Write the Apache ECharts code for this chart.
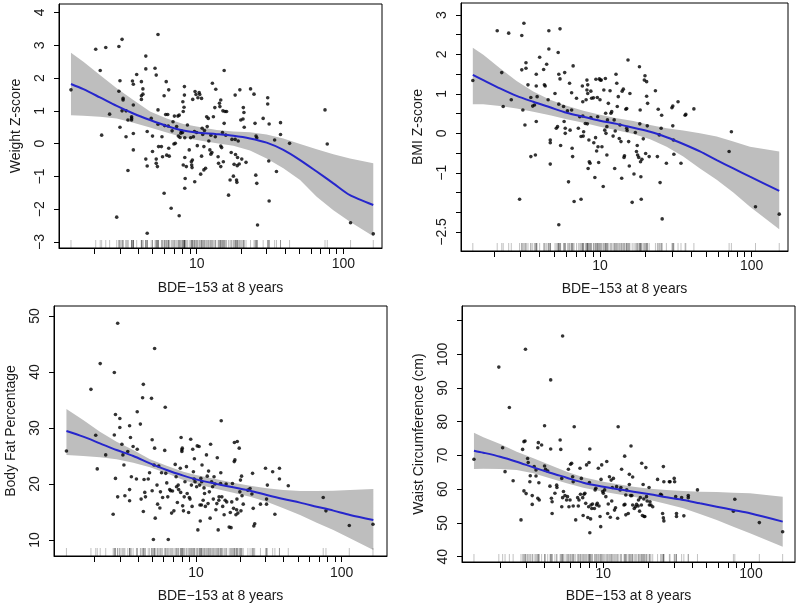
<!DOCTYPE html>
<html><head><meta charset="utf-8">
<script src="https://cdn.jsdelivr.net/npm/echarts@6/dist/echarts.min.js"></script>
<style>html,body{margin:0;padding:0;background:#fff}#c{width:800px;height:613px}</style>
</head><body><div id="c"></div>
<script>
// ---------- shared axis data ----------
const xTicks = [2,3,4,5,6,7,8,9,10,20,30,40,50,60,70,80,90,100];
const xTickLabels = [10,100];
const xTitle = 'BDE\u2212153 at 8 years';

// ---------- Panel 1: Weight Z-score ----------
const weightPoints = [[1.39,1.64],[2.05,2.88],[2.2,2.23],[2.25,0.26],[2.4,2.93],[2.55,0.9],[2.95,2.96],[2.95,1.6],[3.0,1.92],[3.0,0.5],[3.1,3.18],[3.15,1.38],[3.15,1.33],[3.1,1.0],[2.85,-2.24],[3.3,0.21],[3.3,1.0],[3.4,0.72],[3.4,-0.82],[3.6,0.72],[3.65,1.91],[3.7,1.81],[3.7,1.18],[3.7,0.31],[3.7,-0.19],[3.9,2.11],[3.6,0.82],[3.6,0.77],[4.2,1.89],[4.2,1.35],[4.2,1.46],[4.3,1.67],[4.3,1.51],[4.5,2.28],[4.5,2.67],[4.5,-0.47],[4.6,-0.68],[4.6,-2.73],[4.6,0.37],[4.9,0.77],[5.0,0.23],[5.0,-0.24],[5.2,2.3],[5.3,2.09],[5.3,-0.47],[5.3,-0.6],[5.4,-0.7],[5.45,3.33],[5.45,1.03],[5.45,0.59],[5.5,-0.09],[5.75,-0.09],[5.8,0.21],[5.85,-0.4],[6.0,1.46],[6.0,-1.51],[6.05,0.55],[6.15,0.89],[6.2,1.89],[6.25,-0.35],[6.35,0.89],[6.45,1.64],[6.4,0.54],[6.45,-0.14],[6.5,-0.38],[6.7,-1.97],[6.8,0.39],[6.9,0.67],[7.0,-0.01],[7.05,0.84],[7.15,0.01],[7.3,0.52],[7.45,0.84],[7.5,0.23],[7.6,-2.2],[7.6,0.87],[7.7,0.19],[7.8,0.32],[7.85,0.39],[8.0,0.34],[8.05,1.28],[8.1,-0.65],[8.1,0.98],[8.2,1.11],[8.25,1.74],[8.25,1.48],[8.3,0.18],[8.3,-0.42],[8.3,-1.36],[8.35,-1.06],[8.5,-0.7],[8.65,0.57],[8.9,-0.19],[9.1,0.18],[9.2,-0.55],[9.25,-0.65],[9.3,-0.73],[9.35,-0.5],[9.4,1.35],[9.5,0.21],[9.65,0.37],[9.7,-1.16],[9.75,1.59],[9.9,1.5],[10,0.34],[10.1,-0.06],[10.2,1.4],[10.4,1.56],[10.5,1.5],[10.65,-0.93],[10.8,-0.38],[10.8,1.38],[10.9,0.47],[11.0,0.28],[11.2,-0.09],[11.2,-0.8],[11.3,0.4],[11.5,-0.75],[11.7,0.82],[11.8,0.52],[12,0.77],[12.1,0.08],[12.3,-0.19],[12.5,0.26],[12.5,-0.32],[12.7,-0.27],[12.8,1.84],[13.0,0.82],[13.3,1.1],[13.4,0.21],[13.5,1.66],[14,-0.4],[14.1,-0.6],[14.3,1.23],[14.4,1.13],[14.6,1.33],[14.6,-0.7],[14.6,-0.07],[14.8,-0.12],[15,0.34],[15.1,1.0],[15.2,-0.55],[15.4,0.62],[15.4,2.23],[15.6,0.98],[15.8,0.26],[16,0.98],[16.5,-1.57],[16.9,-1.11],[17.2,-0.27],[17.4,0.13],[17.8,-0.99],[18,-0.63],[18.3,0.13],[18.3,1.48],[18.4,-0.33],[18.7,-1.11],[18.8,-1.18],[18.9,-0.67],[19,-0.42],[19.2,0.08],[19.5,-0.62],[19.7,1.64],[20,0.72],[20.3,-0.47],[20.7,0.75],[20.8,1.1],[21,0.95],[21.1,0.5],[21.7,-0.57],[23.3,1.67],[24.6,1.51],[25,0.62],[25.3,-0.96],[25.4,0.23],[25.7,0.18],[25.7,-1.21],[26.0,-2.48],[28.4,0.77],[30.5,1.4],[30.5,1.21],[31,-0.53],[31.2,0.6],[31.2,-1.75],[34,0.11],[35,-0.85],[37.3,0.64],[37.3,0.28],[43,0.01],[75,1.03],[77.7,-0.01],[112,-2.41],[160,-2.75]];
const weightFitX  = [1.39,1.69,2.19,2.85,3.70,4.81,6.25,8.11,10,13.7,17.8,23.1,30.0,39.0,50.7,65.8,85.5,111,160];
const weightFit   = [1.82,1.66,1.41,1.15,0.92,0.72,0.54,0.40,0.34,0.29,0.24,0.16,0.03,-0.19,-0.50,-0.85,-1.21,-1.57,-1.87];
const weightUpper = [2.77,2.50,2.09,1.69,1.33,0.98,0.77,0.60,0.52,0.42,0.37,0.35,0.28,0.16,-0.01,-0.17,-0.32,-0.45,-0.60];
const weightLower = [0.87,0.85,0.82,0.77,0.64,0.49,0.34,0.19,0.11,0.01,-0.06,-0.21,-0.45,-0.75,-1.11,-1.62,-2.03,-2.38,-2.82];
const weightTicks = [-3,-2,-1,0,1,2,3,4];
const weightTickLabels = [-3,-2,-1,0,1,2,3,4];

// ---------- Panel 2: BMI Z-score ----------
const bmiPoints = [[1.45,1.34],[2.1,2.6],[2.25,1.54],[2.3,0.68],[2.5,2.54],[2.6,0.85],[2.95,-1.67],[3.05,1.61],[3.05,2.48],[3.1,0.59],[3.15,2.79],[3.2,0.21],[3.25,1.79],[3.25,1.65],[3.35,1.23],[3.5,0.91],[3.5,-0.59],[3.6,0.69],[3.7,0.72],[3.75,-0.55],[3.8,0.3],[3.8,1.2],[3.8,1.5],[3.85,0.93],[4.0,1.93],[4.25,1.62],[4.3,1.23],[4.35,1.2],[4.45,1.75],[4.55,0.85],[4.6,2.6],[4.6,2.14],[4.7,-0.24],[4.7,-0.17],[4.7,-0.78],[5.05,1.01],[5.15,0.13],[5.25,0.17],[5.3,2.05],[5.35,1.5],[5.35,0.74],[5.35,-2.32],[5.45,2.65],[5.45,1.38],[5.5,-0.31],[5.75,0.68],[5.8,0.3],[5.85,1.54],[5.9,0.13],[5.9,0],[6.1,0.57],[6.2,-1.23],[6.3,1.27],[6.35,0.08],[6.5,1.03],[6.5,0.59],[6.55,-0.38],[6.6,-0.59],[6.65,1.71],[6.75,-1.73],[7.0,0.89],[7.2,0.13],[7.35,0.42],[7.5,-1.67],[7.5,-0.08],[7.65,1.2],[7.7,0.8],[7.7,0.44],[7.75,-0.07],[7.8,0.04],[8.0,0.25],[8.1,0.85],[8.2,1.1],[8.2,1.35],[8.25,0.24],[8.3,1.01],[8.3,1.23],[8.35,-0.89],[8.45,-0.17],[8.5,-0.72],[8.6,-0.76],[8.7,0.4],[8.7,1.07],[8.8,0.89],[9.05,0.9],[9.1,-0.24],[9.25,-1.12],[9.35,-0.11],[9.4,1.37],[9.5,-0.45],[9.6,0.91],[9.65,0.42],[9.7,-0.34],[9.8,-0.74],[9.9,1.38],[10,0.85],[10.05,1.35],[10.2,1.35],[10.3,-0.34],[10.5,-1.35],[10.6,1.1],[10.75,0.08],[10.85,1.39],[10.9,0.51],[10.95,0],[11.1,0.17],[11.1,-0.55],[11.2,0.34],[11.35,0.76],[11.65,1.08],[11.8,0.51],[11.95,0.55],[12.2,-0.07],[12.4,0.34],[12.5,-0.89],[12.6,0.06],[12.75,1.5],[12.9,1.27],[13.0,0.68],[13.2,0.93],[13.4,-0.13],[13.55,0.21],[13.75,-0.21],[13.9,-1.14],[14.0,1.07],[14.25,1.12],[14.4,-0.61],[14.5,-0.57],[14.8,0.61],[15,0.13],[15,0.63],[15.1,0.07],[15.3,1.86],[15.45,-0.21],[15.6,-0.83],[15.75,1.01],[16.3,-1.75],[16.75,-1.03],[17.1,0.02],[17.4,-0.46],[17.6,-0.31],[17.7,-0.55],[18,-0.61],[18.2,1.69],[18.3,0.24],[18.4,0.59],[18.5,-0.72],[18.6,-1.1],[18.7,-1.67],[18.9,-0.66],[19.3,-0.14],[19.6,1.35],[19.8,1.46],[20,-0.51],[20.3,1.31],[20.3,0.94],[20.5,0.19],[20.6,0.76],[21.1,-0.59],[23.2,1.08],[23.9,-0.59],[24.2,0.61],[24.6,-0.04],[24.9,-1.25],[25.3,0.13],[25.5,0.46],[25.7,-2.17],[27.4,-0.76],[29.8,0.65],[30.2,0.69],[30.2,0.19],[30.5,-0.17],[30.7,-0.53],[32.7,0.8],[34.2,-0.76],[36.4,0.46],[36.8,0.48],[41.6,0.62],[71,-0.46],[73.5,0.04],[106,-1.86],[152,-2.05]];
const bmiFitX  = [1.45,1.70,2.19,2.82,3.63,4.68,6.03,7.77,10,12.9,16.6,21.4,27.5,35.4,45.6,58.8,75.7,97.5,152];
const bmiFit   = [1.48,1.35,1.14,0.95,0.80,0.66,0.52,0.42,0.32,0.24,0.14,0.04,-0.10,-0.27,-0.46,-0.68,-0.89,-1.10,-1.46];
const bmiUpper = [2.17,1.99,1.65,1.33,1.06,0.85,0.70,0.57,0.47,0.38,0.31,0.21,0.13,0.07,0.0,-0.08,-0.21,-0.34,-0.46];
const bmiLower = [0.74,0.74,0.69,0.63,0.55,0.46,0.36,0.27,0.17,0.08,-0.02,-0.15,-0.34,-0.59,-0.89,-1.18,-1.50,-1.86,-2.43];
const bmiTicks = [-2.5,-2,-1.5,-1,-0.5,0,0.5,1,1.5,2,2.5,3];
const bmiTickLabels = [-2.5,-1,0,1,2,3];

// ---------- Panel 3: Body Fat Percentage ----------
const fatPoints = [[1.29,25.9],[1.9,36.9],[2.05,28.7],[2.1,22.7],[2.2,41.5],[2.4,25.2],[2.7,14.6],[2.75,39.9],[2.75,28.75],[2.8,32.4],[2.8,21.0],[2.9,48.7],[2.9,17.7],[3.0,31.7],[3.0,30.1],[3.1,27.1],[3.15,25.2],[3.2,23.4],[3.25,17.9],[3.4,25.8],[3.5,30.4],[3.5,19.0],[3.5,17.0],[3.55,28.3],[3.6,21.3],[3.7,26.7],[3.9,20.9],[3.95,26.2],[3.95,32.9],[4.15,30.7],[4.2,17.3],[4.3,35.4],[4.35,37.8],[4.35,15.1],[4.4,20.8],[4.45,18.5],[4.5,17.7],[4.7,20.9],[4.8,22.0],[4.95,35.3],[5.0,27.9],[5.0,18.8],[5.1,10.1],[5.15,23.4],[5.2,44.2],[5.2,26.4],[5.25,13.9],[5.4,19.8],[5.45,16.4],[5.55,23.2],[5.65,15.7],[5.7,18.6],[5.8,22.0],[5.9,17.6],[6.1,26.0],[6.15,33.7],[6.2,21.9],[6.3,20.2],[6.4,17.7],[6.45,10.1],[6.6,19.0],[6.7,18.8],[6.8,14.8],[6.9,18.75],[7.05,15.2],[7.2,23.5],[7.3,21.3],[7.35,19.5],[7.45,16.7],[7.55,19.8],[7.6,19.0],[7.8,22.8],[7.85,18.5],[7.9,28.3],[8.0,26.1],[8.0,25.8],[8.05,26.4],[8.1,16.1],[8.2,15.2],[8.3,17.7],[8.4,20.4],[8.6,23.1],[8.7,18.3],[8.9,14.9],[9.0,17.6],[9.1,17.3],[9.2,28.0],[9.3,19.8],[9.4,16.0],[9.5,26.2],[9.6,22.2],[9.7,20.9],[9.75,24.5],[9.85,20.4],[10.1,19.5],[10.2,26.8],[10.3,11.8],[10.5,26.7],[10.6,19.8],[10.65,16.25],[10.7,13.4],[10.8,21.0],[10.9,16.25],[10.95,20.4],[11.0,23.4],[11.2,17.1],[11.35,19.3],[11.45,18.3],[11.6,16.0],[11.8,25.2],[11.95,21.4],[12.1,16.5],[12.2,22.3],[12.35,18.6],[12.5,13.9],[12.6,27.1],[12.8,20.4],[13.0,19.5],[13.15,17.3],[13.3,21.3],[13.5,20.0],[13.7,15.4],[13.9,16.5],[14.0,24.7],[14.2,11.8],[14.35,17.1],[14.4,17.7],[14.75,20.1],[14.8,22.0],[14.9,31.3],[15.05,17.7],[15.25,16.0],[15.6,14.5],[15.85,17.1],[16.1,20.0],[16.25,16.8],[16.9,12.3],[17.2,14.9],[17.4,12.2],[17.6,16.8],[17.8,20.1],[18.1,15.65],[18.3,24.0],[18.35,27.4],[18.5,24.3],[18.8,14.5],[19.0,15.4],[19.1,17.3],[19.2,27.6],[19.4,14.8],[19.8,26.4],[20.0,18.6],[20.2,20.7],[20.35,15.2],[20.55,21.4],[20.7,17.9],[21.1,16.4],[22.7,18.9],[23.5,19.2],[24.2,18.2],[24.45,21.9],[24.7,15.65],[24.95,12.5],[25.3,12.9],[27.7,16.4],[30,22.8],[30.5,17.3],[30.5,16.4],[30.9,19.8],[33.6,22.2],[34.8,14.6],[37.4,22.8],[37.4,20.9],[43,19.7],[74.7,17.6],[78,15.2],[112.8,12.6],[164,12.8]];
const fatFitX  = [1.29,1.68,2.19,2.85,3.71,4.83,6.29,8.19,10,13.9,18.0,23.5,30.6,39.8,51.8,67.4,87.7,114,165];
const fatFit   = [29.46,28.45,27.26,26.07,25.0,23.69,22.5,21.49,20.83,20.0,19.4,18.81,18.04,17.32,16.67,15.95,15.24,14.46,13.57];
const fatUpper = [33.39,31.43,29.35,27.56,26.07,24.4,23.27,22.2,21.61,20.83,20.24,19.7,19.23,18.93,18.75,18.75,18.81,18.93,19.11];
const fatLower = [25.18,25.0,24.76,24.4,23.81,22.98,21.9,20.71,20.0,19.11,18.45,17.74,16.85,15.65,14.46,13.1,11.79,10.3,8.21];
const fatTicks = [10,20,30,40,50];
const fatTickLabels = [10,20,30,40,50];

// ---------- Panel 4: Waist Circumference ----------
const waistPoints = [[1.33,68.9],[1.96,96.2],[2.08,72.3],[2.16,65.2],[2.31,84.2],[2.45,62.5],[2.77,50.9],[2.84,71.8],[2.9,74.1],[2.95,74.3],[2.97,101.5],[2.9,59.5],[3.0,58.7],[3.07,69.1],[3.1,67.9],[3.18,62.2],[3.2,64.0],[3.3,55.5],[3.3,58.1],[3.4,66.7],[3.5,63.9],[3.5,65.7],[3.6,57.3],[3.6,72.3],[3.63,73.8],[3.66,61.9],[3.68,56.8],[3.82,73.1],[4.0,78.8],[4.0,66.9],[4.06,65.9],[4.2,65.4],[4.35,60.9],[4.4,71.9],[4.4,92.4],[4.45,57.3],[4.5,56.3],[4.5,52.8],[4.7,58.8],[4.83,61.2],[4.85,60.5],[5.1,74.6],[5.15,71.8],[5.23,63.2],[5.23,54.8],[5.3,105.4],[5.3,57.5],[5.37,59.3],[5.5,58.1],[5.64,56.8],[5.72,57.8],[5.8,65.9],[5.85,54.8],[5.95,56.8],[6.0,67.4],[6.1,67.7],[6.2,63.7],[6.25,62.2],[6.25,55.0],[6.35,78.5],[6.5,50.9],[6.7,57.5],[6.77,55.0],[6.84,56.8],[6.95,66.2],[7.0,58.5],[7.1,63.2],[7.25,57.5],[7.3,52.2],[7.4,58.5],[7.5,58.8],[7.6,55.8],[7.7,67.2],[7.85,51.6],[7.95,54.8],[8.0,67.9],[8.05,62.0],[8.1,71.9],[8.1,47.1],[8.2,51.2],[8.25,55.3],[8.35,54.3],[8.45,55.6],[8.7,54.3],[8.8,59.8],[8.9,60.3],[9.0,55.3],[9.1,55.8],[9.25,66.2],[9.35,55.0],[9.5,51.9],[9.6,48.9],[9.65,62.9],[9.75,67.2],[9.9,59.3],[10.0,58.8],[10.2,59.8],[10.4,57.8],[10.55,68.2],[10.7,52.8],[10.8,55.6],[11.0,63.7],[11.15,51.7],[11.3,62.7],[11.4,56.5],[11.5,60.5],[11.7,63.2],[11.9,53.8],[12.1,54.5],[12.3,60.75],[12.5,51.4],[12.6,78.5],[13.0,59.8],[13.15,60.5],[13.3,65.9],[13.8,55.3],[13.95,69.8],[15.4,72.8],[14.0,55.5],[14.2,58.3],[14.4,59.8],[14.2,52.4],[14.75,52.8],[15.0,64.4],[15.0,61.4],[15.3,58.1],[15.6,58.1],[15.8,63.6],[15.8,55.3],[16.2,54.3],[16.5,54.8],[16.8,55.5],[17.2,55.0],[17.3,56.8],[17.6,53.5],[17.8,57.5],[18.1,55.3],[18.2,67.7],[18.4,52.2],[18.6,61.4],[18.8,57.1],[18.9,51.9],[19.1,51.9],[19.4,66.4],[19.6,57.8],[19.8,56.5],[20.4,60.5],[20.5,55.3],[20.7,56.3],[21.0,55.3],[21.6,54.8],[23.3,62.9],[24.4,58.5],[24.8,58.3],[25.2,52.8],[25.5,51.5],[25.7,50.6],[25.5,66.7],[25.7,62.2],[28.0,62.2],[28.3,62.2],[30.2,63.2],[30.4,62.2],[30.9,57.8],[31.3,52.8],[31.3,51.9],[33.9,57.5],[35.1,52.1],[37.6,58.1],[37.6,57.5],[43.4,59.8],[76.0,53.5],[77.7,57.0],[113.9,50.1],[163.8,47.4]];
const waistFitX  = [1.33,1.54,2.0,2.59,3.36,4.35,5.65,7.32,10,12.3,16.0,20.7,26.8,34.8,45.1,58.6,75.9,98.4,164];
const waistFit   = [71.42,70.83,69.64,68.16,66.48,64.9,63.42,61.94,60.75,60.06,59.27,58.48,57.59,56.8,55.81,54.82,53.83,52.85,50.38];
const waistUpper = [76.76,75.38,73.4,71.13,69.15,67.17,65.2,63.52,62.23,61.54,60.75,60.16,59.76,59.47,59.27,59.17,58.97,58.77,57.79];
const waistLower = [65.99,66.09,65.99,65.69,64.7,63.22,61.74,60.45,59.27,58.58,57.79,56.8,55.61,54.33,52.65,50.87,48.89,46.92,42.96];
const waistTicks = [40,50,60,70,80,90,100,110];
const waistTickLabels = [40,50,60,70,80,90,100];

// ---------- layout ----------
const FONT = '"Liberation Sans", Arial, sans-serif';
const TXT = '#1a1a1a';
const lg = Math.log10;
const fmt = v => String(v).replace('-', '\u2212');

const panels = [
  {grid:{left:59,top:4,width:323,height:244}, xr:[0.0614,2.2636], yr:[-3.181,4.258],
   pts:weightPoints, fx:weightFitX, fit:weightFit, lo:weightLower, hi:weightUpper,
   yt:weightTicks, yl:weightTickLabels, yName:'Weight Z-score', xMargin:9, xGap:33},
  {grid:{left:461,top:3,width:327,height:248}, xr:[0.0835,2.2396], yr:[-2.984,3.305],
   pts:bmiPoints, fx:bmiFitX, fit:bmiFit, lo:bmiLower, hi:bmiUpper,
   yt:bmiTicks, yl:bmiTickLabels, yName:'BMI Z-score', xMargin:8, xGap:31},
  {grid:{left:54,top:306,width:333,height:250}, xr:[0.0252,2.3112], yr:[7.14,51.79],
   pts:fatPoints, fx:fatFitX, fit:fatFit, lo:fatLower, hi:fatUpper,
   yt:fatTicks, yl:fatTickLabels, yName:'Body Fat Percentage', xMargin:10, xGap:33},
  {grid:{left:462,top:306,width:333,height:256}, xr:[0.0429,2.298], yr:[38.42,114.31],
   pts:waistPoints, fx:waistFitX, fit:waistFit, lo:waistLower, hi:waistUpper,
   yt:waistTicks, yl:waistTickLabels, yName:'Waist Circumference (cm)', xMargin:5, xGap:27}
];

const grids = [], xAxes = [], yAxes = [], series = [];
panels.forEach((p, i) => {
  grids.push(Object.assign({show:true, borderColor:'#000', borderWidth:1}, p.grid));
  xAxes.push({
    gridIndex:i, type:'value', min:p.xr[0], max:p.xr[1], position:'bottom',
    axisLine:{show:true, onZero:false, lineStyle:{color:'#000', width:1}}, splitLine:{show:false},
    axisTick:{show:true, length:6, customValues:xTicks.map(lg), lineStyle:{color:'#000', width:1}},
    axisLabel:{customValues:xTickLabels.map(lg), formatter:v => String(Math.round(Math.pow(10, v))),
      fontSize:14, color:TXT, fontFamily:FONT, margin:p.xMargin},
    name:xTitle, nameLocation:'middle', nameGap:p.xGap,
    nameTextStyle:{fontSize:14, color:TXT, fontFamily:FONT}
  });
  yAxes.push({
    gridIndex:i, type:'value', min:p.yr[0], max:p.yr[1], position:'left',
    axisLine:{show:true, onZero:false, lineStyle:{color:'#000', width:1}}, splitLine:{show:false},
    axisTick:{show:true, length:5, customValues:p.yt, lineStyle:{color:'#000', width:1}},
    axisLabel:{customValues:p.yl, rotate:90, formatter:fmt, fontSize:14, color:TXT, fontFamily:FONT, margin:12},
    name:p.yName, nameLocation:'middle', nameGap:36, nameRotate:90,
    nameTextStyle:{fontSize:14, color:TXT, fontFamily:FONT}
  });
  const fx = p.fx, hi = p.hi, lo = p.lo;
  series.push({
    type:'custom', xAxisIndex:i, yAxisIndex:i, silent:true, z:1,
    data:[[lg(fx[0]), hi[0]]],
    renderItem:(params, api) => {
      const pts = [];
      for (let k = 0; k < fx.length; k++) pts.push(api.coord([lg(fx[k]), hi[k]]));
      for (let k = fx.length - 1; k >= 0; k--) pts.push(api.coord([lg(fx[k]), lo[k]]));
      return {type:'polygon', shape:{points:pts}, style:{fill:'#bebebe', stroke:null}};
    }
  });
  // rug
  series.push({
    type:'scatter', xAxisIndex:i, yAxisIndex:i, silent:true, z:3,
    data:p.pts.map(d => [lg(d[0]), p.yr[0]]),
    symbol:'rect', symbolSize:[1, 8], symbolOffset:[0, -4],
    itemStyle:{color:'rgba(0,0,0,0.3)'}
  });
  series.push({
    type:'scatter', xAxisIndex:i, yAxisIndex:i, silent:true, z:4,
    data:p.pts.map(d => [lg(d[0]), d[1]]),
    symbol:'circle', symbolSize:3.6, itemStyle:{color:'#000'}
  });
  series.push({
    type:'line', xAxisIndex:i, yAxisIndex:i, silent:true, z:5,
    data:fx.map((x, k) => [lg(x), p.fit[k]]),
    smooth:0.3, showSymbol:false, symbol:'none',
    lineStyle:{color:'#2626cc', width:2}
  });
});

const chart = echarts.init(document.getElementById('c'), null, {renderer:'canvas'});
chart.setOption({animation:false, backgroundColor:'#fff', grid:grids, xAxis:xAxes, yAxis:yAxes, series:series});
</script>
</body></html>
